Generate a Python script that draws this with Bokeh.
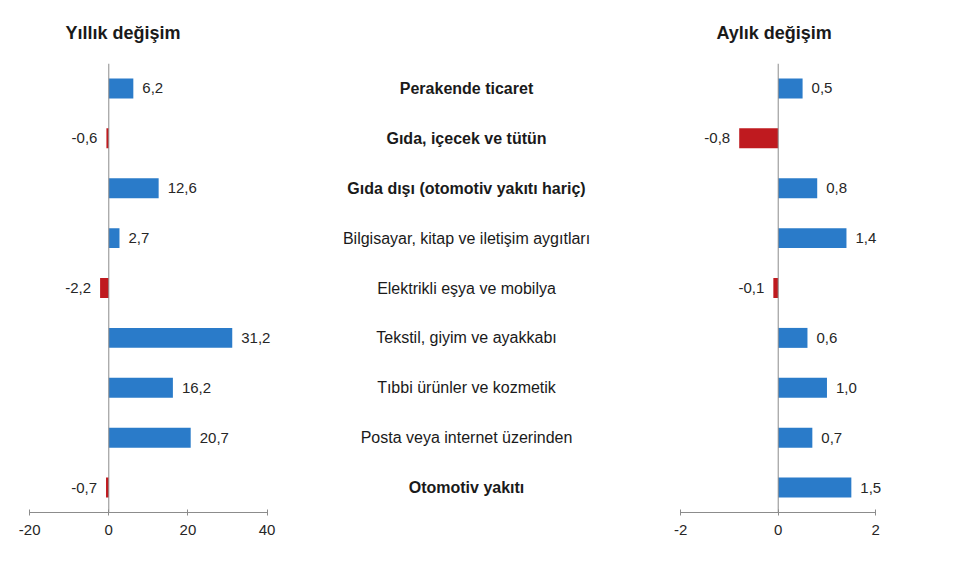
from bokeh.plotting import figure
from bokeh.layouts import row
from bokeh.models import ColumnDataSource, Range1d, Span, FixedTicker, Title, CustomJSTickFormatter
from bokeh.core.properties import value
from bokeh.embed import file_html
from bokeh.resources import INLINE

categories = [
    "Perakende ticaret",
    "Gıda, içecek ve tütün",
    "Gıda dışı (otomotiv yakıtı hariç)",
    "Bilgisayar, kitap ve iletişim aygıtları",
    "Elektrikli eşya ve mobilya",
    "Tekstil, giyim ve ayakkabı",
    "Tıbbi ürünler ve kozmetik",
    "Posta veya internet üzerinden",
    "Otomotiv yakıtı",
]
bold_rows = [True, True, True, False, False, False, False, False, True]
yearly = [6.2, -0.6, 12.6, 2.7, -2.2, 31.2, 16.2, 20.7, -0.7]
monthly = [0.5, -0.8, 0.8, 1.4, -0.1, 0.6, 1.0, 0.7, 1.5]
yearly_ticks = [-20, 0, 20, 40]
monthly_ticks = [-2, 0, 2]
title_left = "Yıllık değişim"
title_right = "Aylık değişim"

BLUE = "#2A7BC9"
RED = "#BF1A1F"
FONT = "Liberation Sans"
H = 562
TOP = 63
BOTTOM = 50

ypos = list(range(len(categories)))


def fmt(v):
    return f"{v:.1f}".replace(".", ",")


def make_source(vals):
    return ColumnDataSource(dict(
        y=ypos,
        v=vals,
        left=[min(0, v) for v in vals],
        right=[max(0, v) for v in vals],
        color=[BLUE if v >= 0 else RED for v in vals],
        label=[fmt(v) for v in vals],
        align=["left" if v >= 0 else "right" for v in vals],
        off=[9 if v >= 0 else -9 for v in vals],
    ))


def panel(vals, ticks, xr, width, title, title_offset):
    p = figure(width=width, height=H, x_range=xr, y_range=Range1d(8.5, -0.5),
               output_backend="svg", toolbar_location=None, y_axis_location=None,
               min_border_left=0, min_border_right=0, min_border_top=TOP,
               min_border_bottom=BOTTOM)
    p.title = Title(text=title, align="left", offset=title_offset,
                    text_font=FONT, text_font_size="18px", text_font_style="bold",
                    text_color="#1a1a1a", standoff=37, vertical_align="top")
    p.outline_line_color = None
    p.xgrid.visible = False
    p.ygrid.visible = False
    src = make_source(vals)
    p.hbar(y="y", left="left", right="right", height=0.4, fill_color="color",
           line_color=None, source=src)
    p.add_layout(Span(location=0, dimension="height", line_color="#8c8c8c", line_width=1))
    p.text(x="v", y="y", text="label", text_align="align", text_baseline="middle",
           x_offset="off", text_font=value(FONT), text_font_size="15px",
           text_color="#262626", source=src)
    ax = p.xaxis[0]
    ax.ticker = FixedTicker(ticks=ticks)
    ax.formatter = CustomJSTickFormatter(code="return tick.toString();")
    ax.bounds = (ticks[0], ticks[-1])
    ax.minor_tick_line_color = None
    ax.major_tick_in = 3
    ax.major_tick_out = 3
    ax.axis_line_color = "#8c8c8c"
    ax.major_tick_line_color = "#8c8c8c"
    ax.major_label_text_font = FONT
    ax.major_label_text_font_size = "15px"
    ax.major_label_text_color = "#262626"
    ax.major_label_standoff = 9
    return p


left = panel(yearly, yearly_ticks, Range1d(-27.37, 48.45), 300, title_left, 65)
right = panel(monthly, monthly_ticks, Range1d(-2.989, 3.534), 318, title_right, 84)

mid = figure(width=332, height=H, x_range=Range1d(0, 1), y_range=Range1d(8.5, -0.5),
             output_backend="svg", toolbar_location=None, x_axis_location=None,
             y_axis_location=None, min_border_left=0, min_border_right=0,
             min_border_top=TOP, min_border_bottom=BOTTOM)
mid.outline_line_color = None
mid.xgrid.visible = False
mid.ygrid.visible = False
msrc = ColumnDataSource(dict(
    x=[0.5] * len(categories),
    y=ypos,
    text=categories,
    style=["bold" if b else "normal" for b in bold_rows],
))
mid.text(x="x", y="y", text="text", text_align="center", text_baseline="middle",
         text_font=value(FONT), text_font_size="16px", text_font_style="style",
         text_color="#1a1a1a", source=msrc)

layout = row(left, mid, right)
open("out.html", "w").write(file_html(layout, INLINE))
